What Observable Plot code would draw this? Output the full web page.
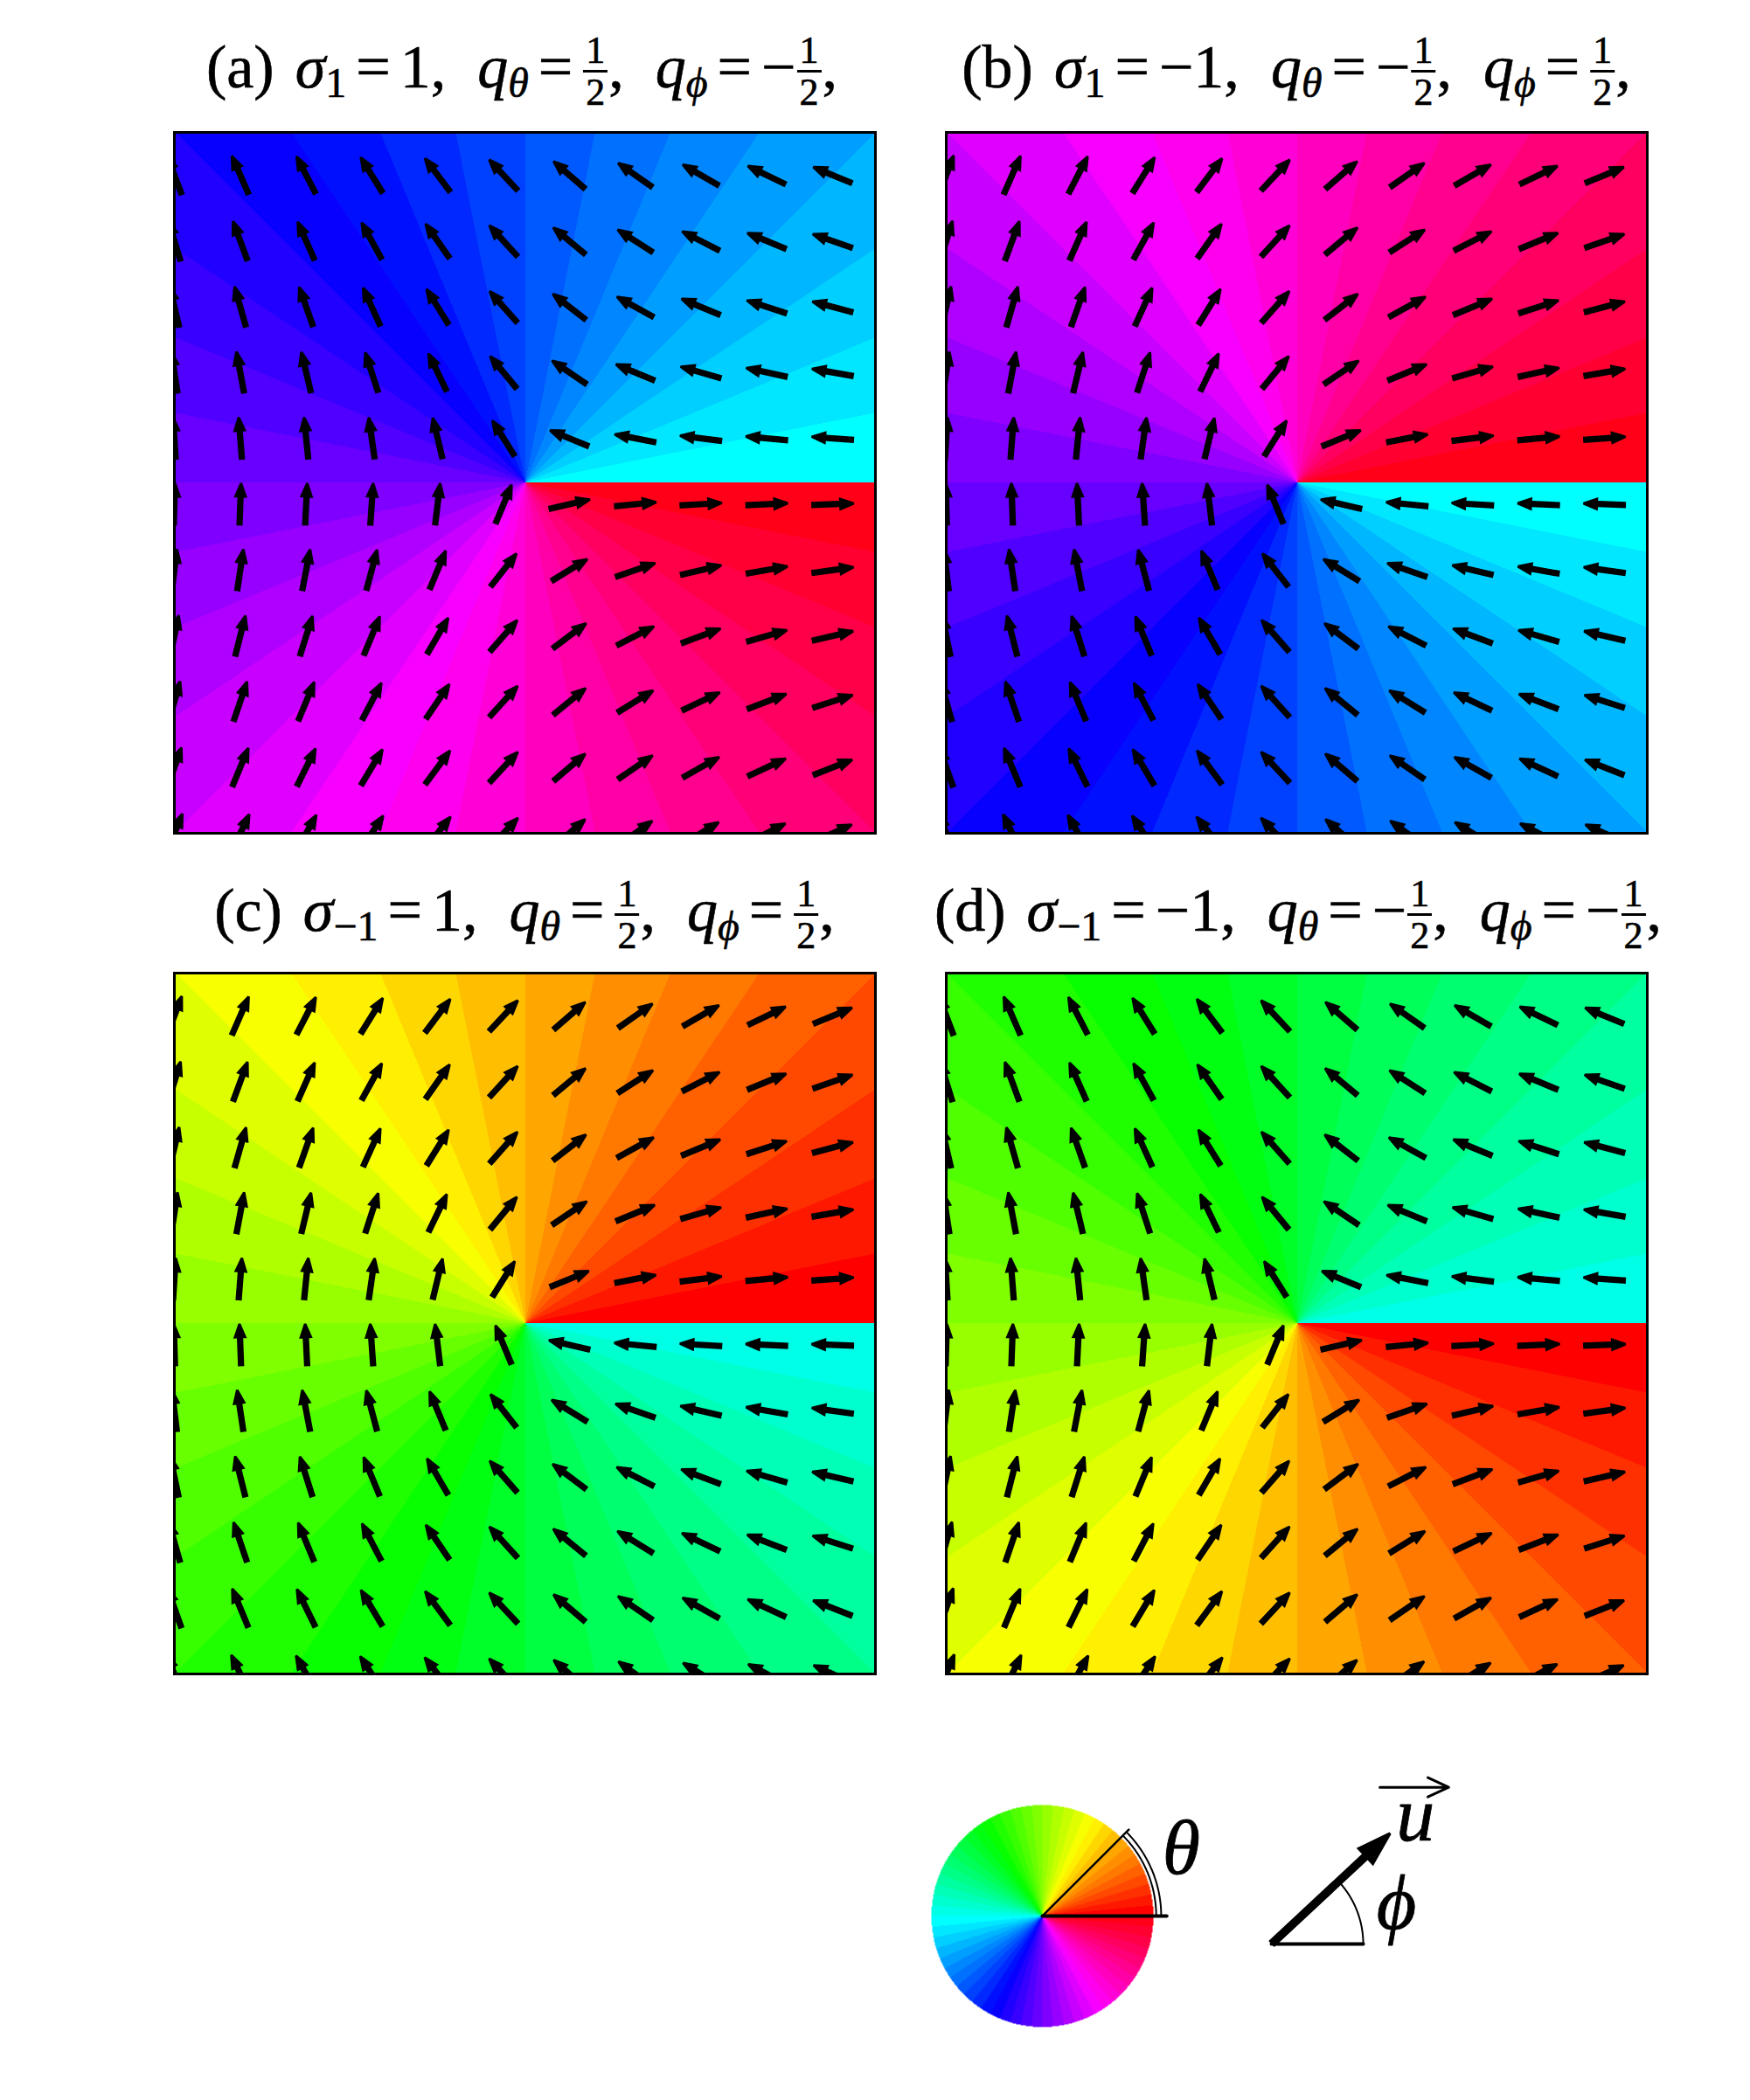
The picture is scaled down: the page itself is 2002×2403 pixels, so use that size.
<!DOCTYPE html>
<html><head><meta charset="utf-8">
<script src="https://cdn.jsdelivr.net/npm/d3@7"></script>
<script src="https://cdn.jsdelivr.net/npm/@observablehq/plot@0.6"></script>
<style>
html,body{margin:0;padding:0;background:#fff;}
body{width:2002px;height:2403px;position:relative;overflow:hidden;font-family:"Liberation Serif","DejaVu Serif",serif;color:#000;}
.box{position:absolute;}
.title{position:absolute;white-space:nowrap;font-size:70px;line-height:1;transform:translateX(-50%);-webkit-text-stroke:0.6px #000;}
.title sub{font-size:48px;vertical-align:-11px;line-height:1;}
.frac{display:inline-block;vertical-align:-20px;text-align:center;font-size:44px;line-height:44px;margin:0 1px;}
.frac span{display:block;}
.frac .num{border-bottom:3px solid #000;padding:0 3px 0 3px;}
.frac .den{padding-top:1px;}
.g1{display:inline-block;width:24px;}
.g2{display:inline-block;width:36px;}
.eq{margin:0 11px;}
</style></head><body>
<script>
// ---- data ----
const panelLabels = ["a", "b", "c", "d"];
const sigmaSub   = ["1", "1", "\u22121", "\u22121"];
const sigmaValue = ["1", "\u22121", "1", "\u22121"];
const qTheta = [0.5, -0.5, 0.5, -0.5];
const qPhi   = [-0.5, 0.5, 0.5, -0.5];
const theta0 = [180, 360, 0, 180];   // hue (deg) on the cut, approached from above
const phi0   = [180, 0, 0, 180];     // arrow angle (deg) on the cut, approached from above
const gridPos = [-1, -0.812, -0.624, -0.437, -0.249, -0.061, 0.127, 0.315, 0.502, 0.690, 0.878];
const hueLevels = 64;
// panel placement: [left, top] of SVG
const panelBox = [[196, 148], [1079, 148], [196, 1110], [1079, 1110]];
const titleAnchor = [[597, 36], [1483, 36], [600, 1001], [1485, 1001]];
// legend geometry (wheel radius units)
const wheelRays = [{angle: 0, r: 1.12, w: 4}, {angle: 45, r: 1.1, w: 2.5}];
const wheelArcRadii = [1.025, 1.07];
const wheelArcSpan = [0, 45];
const uArrow = {x: 2.063, y: -0.252, angle: 43, length: 186};
const uBaseLen = 0.827;
const legendLabels = [
  {x: 1.25, y: 0.60, text: "\u03b8"},
  {x: 3.19, y: 0.11, text: "\u03d5"},
  {x: 3.36, y: 0.90, text: "u"}
];
const overArrow = {x1: 3.04, x2: 3.66, y: 1.16};

function hsv(h) { return d3.hsl(h, 1, 0.5).toString(); }
function quant(t) { t = ((t % 360) + 360) % 360; return Math.floor(t / 360 * hueLevels) * 360 / hueLevels; }

function arrowShape(sw, hw, hl, tw) {
  return {
    draw(ctx, l) {
      ctx.moveTo(-sw, 0); ctx.lineTo(-sw, -(l - hl)); ctx.lineTo(-hw, -(l - hl));
      ctx.lineTo(-tw, -l); ctx.lineTo(tw, -l); ctx.lineTo(hw, -(l - hl));
      ctx.lineTo(sw, -(l - hl)); ctx.lineTo(sw, 0); ctx.closePath();
    }
  };
}
const smallArrow = arrowShape(3.6, 7.8, 17, 1.3);
const bigArrow = arrowShape(4.8, 14, 40, 1.5);

function frac(q) {
  const sign = q < 0 ? "\u2212" : "";
  return `${sign}<span class="frac"><span class="num">1</span><span class="den">${Math.round(1 / Math.abs(q))}</span></span>`;
}

function panel(i) {
  const arrows = [];
  for (const gx of gridPos) for (const gy of gridPos) {
    let a = Math.atan2(gy, gx) * 180 / Math.PI; if (a < 0) a += 360;
    const phi = phi0[i] + qPhi[i] * a;
    arrows.push({x: gx, y: gy, rotate: 90 - phi});
  }
  const fillFn = (x, y) => {
    let a = Math.atan2(y, x) * 180 / Math.PI; if (a < 0) a += 360;
    return hsv(quant(theta0[i] + qTheta[i] * a));
  };
  return Plot.plot({
    width: 808, height: 808, margin: 3,
    x: {domain: [-1, 1], axis: null},
    y: {domain: [-1, 1], axis: null},
    color: {type: "identity"},
    marks: [
      Plot.raster({fill: fillFn, x1: -1, x2: 1, y1: -1, y2: 1, pixelSize: 1, imageRendering: "pixelated"}),
      Plot.vector(arrows, {x: "x", y: "y", rotate: "rotate", length: 49, anchor: "middle",
        shape: smallArrow, fill: "black", stroke: "none", clip: true}),
      Plot.frame({stroke: "black", strokeWidth: 3})
    ]
  });
}

for (let i = 0; i < 4; i++) {
  const d = document.createElement("div");
  d.className = "box";
  d.style.left = panelBox[i][0] + "px"; d.style.top = panelBox[i][1] + "px";
  d.appendChild(panel(i));
  document.body.appendChild(d);
  const t = document.createElement("div");
  t.className = "title";
  t.style.left = titleAnchor[i][0] + "px"; t.style.top = titleAnchor[i][1] + "px";
  t.innerHTML = `(${panelLabels[i]})<span class="g1"></span><i>\u03c3</i><sub>${sigmaSub[i]}</sub><span class="eq">=</span>${sigmaValue[i]},` +
    `<span class="g2"></span><i>q</i><sub><i>\u03b8</i></sub><span class="eq">=</span>${frac(qTheta[i])},` +
    `<span class="g2"></span><i>q</i><sub><i>\u03d5</i></sub><span class="eq">=</span>${frac(qPhi[i])},`;
  document.body.appendChild(t);
}

// ---- legend ----
const toXY = (ang, r, cx = 0, cy = 0) => ({x: cx + r * Math.cos(ang * Math.PI / 180), y: cy + r * Math.sin(ang * Math.PI / 180)});
const rayLines = wheelRays.map(r => [toXY(0, 0), toXY(r.angle, r.r)]);
const arcLine = (rad, a0, a1, cx = 0, cy = 0) => d3.range(0, 101).map(k => toXY(a0 + (a1 - a0) * k / 100, rad, cx, cy));
const wheelFn = (x, y) => {
  if (x * x + y * y > 1) return "white";
  let a = Math.atan2(y, x) * 180 / Math.PI;
  return hsv(quant(a));
};
const legend = Plot.plot({
  width: 660, height: 330, margin: 0,
  x: {domain: [-1.197, 4.0], axis: null},
  y: {domain: [-1.244, 1.354], axis: null},
  color: {type: "identity"},
  marks: [
    Plot.raster({fill: wheelFn, x1: -1, x2: 1, y1: -1, y2: 1, pixelSize: 1}),
    ...rayLines.map((l, k) => Plot.line(l, {x: "x", y: "y", stroke: "black", strokeWidth: wheelRays[k].w})),
    ...wheelArcRadii.map(r => Plot.line(arcLine(r, wheelArcSpan[0], wheelArcSpan[1]), {x: "x", y: "y", stroke: "black", strokeWidth: 2})),
    Plot.line([{x: uArrow.x, y: uArrow.y}, {x: uArrow.x + uBaseLen, y: uArrow.y}], {x: "x", y: "y", stroke: "black", strokeWidth: 4}),
    Plot.line(arcLine(uBaseLen, 0, uArrow.angle, uArrow.x, uArrow.y), {x: "x", y: "y", stroke: "black", strokeWidth: 2}),
    Plot.vector([uArrow], {x: "x", y: "y", rotate: 90 - uArrow.angle, length: uArrow.length, anchor: "start",
      shape: bigArrow, fill: "black", stroke: "none"}),
    Plot.text(legendLabels, {x: "x", y: "y", text: "text", fontSize: 88, fontStyle: "italic",
      fontFamily: "Liberation Serif, DejaVu Serif, serif", textAnchor: "middle", lineAnchor: "middle",
      fill: "black", stroke: "black", strokeWidth: 0.8}),
    Plot.arrow([overArrow], {x1: "x1", x2: "x2", y1: "y", y2: "y", stroke: "black", strokeWidth: 3, headLength: 22, headAngle: 50})
  ]
});
const lg = document.createElement("div");
lg.className = "box"; lg.style.left = "1040px"; lg.style.top = "2020px";
lg.appendChild(legend);
document.body.appendChild(lg);
</script></body></html>
